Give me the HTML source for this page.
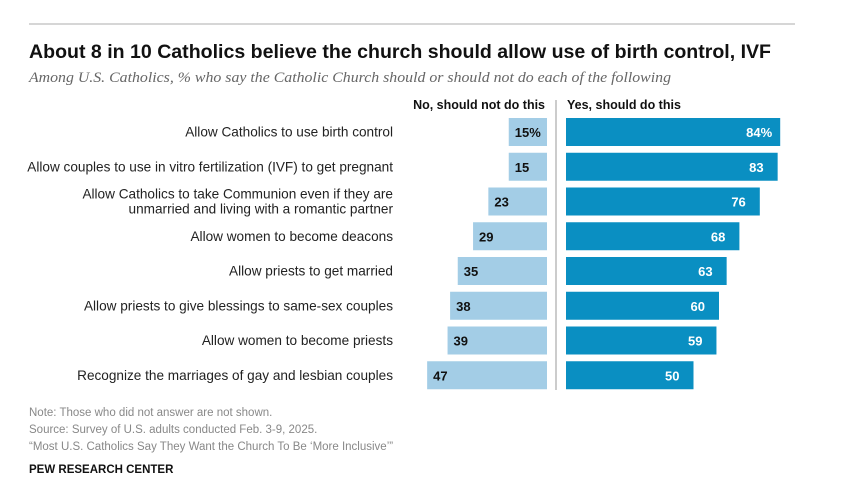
<!DOCTYPE html>
<html><head><meta charset="utf-8"><style>
html,body{margin:0;padding:0;background:#fff;}
svg{display:block;font-family:"Liberation Sans",Arial,sans-serif;}
</style></head><body>
<svg id="chart" width="847" height="494" viewBox="0 0 847 494">
<line x1="29" y1="24" x2="795" y2="24" stroke="#c8c8c8" stroke-width="1.5"/>
<text x="29" y="58" font-size="19.5" font-weight="bold" fill="#111" textLength="742" lengthAdjust="spacingAndGlyphs">About 8 in 10 Catholics believe the church should allow use of birth control, IVF</text>
<text x="29" y="82" font-size="15" font-style="italic" fill="#666" font-family="Liberation Serif,serif" textLength="642" lengthAdjust="spacingAndGlyphs">Among U.S. Catholics, % who say the Catholic Church should or should not do each of the following</text>
<text x="545" y="109" font-size="12.5" font-weight="bold" text-anchor="end" fill="#111">No, should not do this</text>
<text x="567" y="109" font-size="12.5" font-weight="bold" fill="#111">Yes, should do this</text>
<line x1="556" y1="100" x2="556" y2="390" stroke="#bbb" stroke-width="1.5"/>
<g id="rows"></g>
<text x="29" y="416" font-size="11.5" fill="#888">Note: Those who did not answer are not shown.</text>
<text x="29" y="433" font-size="11.5" fill="#888">Source: Survey of U.S. adults conducted Feb. 3-9, 2025.</text>
<text x="29" y="450" font-size="11.5" fill="#888">“Most U.S. Catholics Say They Want the Church To Be ‘More Inclusive’”</text>
<text x="29" y="473" font-size="11.5" font-weight="bold" fill="#111">PEW RESEARCH CENTER</text>
</svg>
<script>
const categories = [
 ["Allow Catholics to use birth control"],
 ["Allow couples to use in vitro fertilization (IVF) to get pregnant"],
 ["Allow Catholics to take Communion even if they are","unmarried and living with a romantic partner"],
 ["Allow women to become deacons"],
 ["Allow priests to get married"],
 ["Allow priests to give blessings to same-sex couples"],
 ["Allow women to become priests"],
 ["Recognize the marriages of gay and lesbian couples"]
];
const noValues = [15,15,23,29,35,38,39,47];
const yesValues = [84,83,76,68,63,60,59,50];

const NS="http://www.w3.org/2000/svg";
const g=document.getElementById('rows');
const scale=v=>v*2.55;
const rowY=i=>132+i*34.75;
function mk(tag,attrs){const e=document.createElementNS(NS,tag);for(const k in attrs)e.setAttribute(k,attrs[k]);return e;}
categories.forEach((lines,i)=>{
  const cy=rowY(i);
  lines.forEach((t,j)=>{
    const tx=mk('text',{x:393,y:cy+4.5+(j-(lines.length-1)/2)*15,'font-size':13.6,'text-anchor':'end',fill:'#222'});
    
    
    tx.textContent=t;g.appendChild(tx);
  });
  const wn=scale(noValues[i]);
  const rn=mk('rect',{x:547-wn,y:cy-14,width:wn,height:28,fill:'#a3cde6'});
  
  
  g.appendChild(rn);
  const ln=mk('text',{x:547-wn+6,y:cy+5,'font-size':13,'font-weight':'bold',fill:'#111'});
  
  
  ln.textContent=noValues[i]+(i===0?'%':'');g.appendChild(ln);
  const wy=scale(yesValues[i]);
  const ry=mk('rect',{x:566,y:cy-14,width:wy,height:28,fill:'#0a8fc2'});
  
  
  g.appendChild(ry);
  const ly=mk('text',{x:566+wy-(i===0?8:14),y:cy+5,'font-size':13,'font-weight':'bold',fill:'#fff','text-anchor':'end'});
  
  
  ly.textContent=yesValues[i]+(i===0?'%':'');g.appendChild(ly);
});
</script>
</body></html>
